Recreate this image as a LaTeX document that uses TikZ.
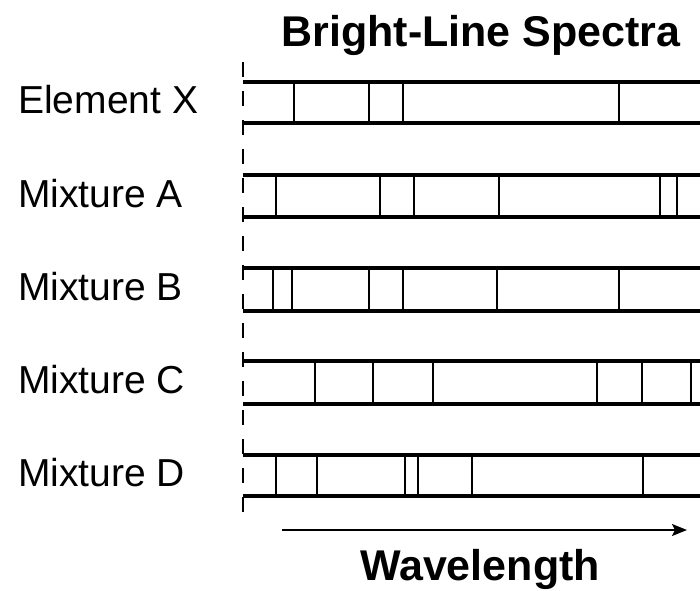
\documentclass[tikz,border=0pt]{standalone}
\usepackage{fontspec}
\setmainfont{Liberation Sans}
\usetikzlibrary{arrows.meta}

\tikzset{
  rail/.style={line width=3.3pt, line cap=butt},
  emline/.style={line width=2.7pt},
  guide/.style={line width=2.4pt, dash pattern=on 15pt off 14pt},
  label/.style={anchor=base west, inner sep=0pt, font=\fontsize{39}{46}\selectfont},
  heading/.style={anchor=base, inner sep=0pt, font=\fontsize{43}{50}\selectfont\bfseries},
  axis/.style={line width=1.8pt, -{Stealth[length=15pt, width=12pt, inset=3pt]}}
}

\begin{document}
\begin{tikzpicture}[x=1pt, y=-1pt]
  \useasboundingbox (0,0) rectangle (700,590);

  % title
  \node[heading] (title) at (481,46) {Bright-Line Spectra};

  % vertical reference line on the left edge of the spectra
  \coordinate (gtop) at (243,62);
  \coordinate (gbot) at (243,512);
  \draw[guide] (gtop) -- (gbot);

  % one spectrum per row: name / label / top rail / bottom rail / line positions
  \foreach \id/\txt/\t/\b/\lines in {
      ex/Element X/82/123/{294,369,403,619},
      ma/Mixture A/175/217/{276,380,414,499,660,677},
      mb/Mixture B/268/311/{273,292,369,403,497,619},
      mc/Mixture C/361/404/{315,373,433,597,642,691},
      md/Mixture D/455/496/{276,317,405,418,472,643}} {
    \pgfmathsetmacro{\mid}{(\t+\b)/2+11}
    \node[label] (\id) at (18,\mid) {\txt};
    \coordinate (\id-tl) at (243,\t);
    \coordinate (\id-tr) at (700,\t);
    \coordinate (\id-bl) at (243,\b);
    \coordinate (\id-br) at (700,\b);
    \draw[rail] (\id-tl) -- (\id-tr);
    \draw[rail] (\id-bl) -- (\id-br);
    \foreach \x in \lines {
      \draw[emline] (\x,\t) -- (\x,\b);
    }
  }

  % wavelength axis
  \coordinate (wstart) at (282,530);
  \coordinate (wend) at (687,530);
  \draw[axis] (wstart) -- (wend);
  \node[heading] (wave) at (480,580) {Wavelength};
\end{tikzpicture}
\end{document}
